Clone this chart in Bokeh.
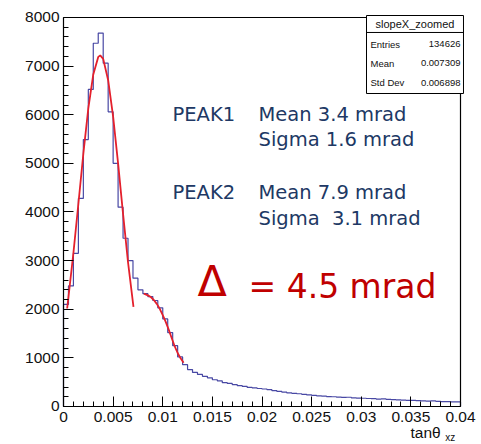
import numpy as np
from bokeh.plotting import figure
from bokeh.models import Range1d, FixedTicker, Label
from bokeh.embed import file_html
from bokeh.resources import INLINE

# ---------------- data ----------------
bin_width = 0.0005
hist_counts = [2100, 2480, 3150, 4280, 5490, 6520, 7470, 7680, 7060, 6060,
               5000, 4100, 3460, 3000, 2640, 2400, 2320, 2260, 2180, 2030,
               1800, 1520, 1250, 1020, 860, 760, 700, 660, 620, 590,
               550, 525, 490, 475, 450, 430, 415, 395, 385, 370,
               360, 345, 325, 310, 295, 280, 270, 262, 250, 238,
               228, 220, 212, 205, 200, 192, 186, 190, 178, 172,
               170, 165, 160, 152, 156, 146, 140, 137, 132, 126,
               125, 120, 116, 112, 116, 106, 102, 100, 96, 95]

fit1_x = [0.00037, 0.001, 0.0015, 0.002, 0.0025, 0.003, 0.0035, 0.0037,
          0.004, 0.0045, 0.005, 0.0055, 0.006, 0.0065, 0.00705]
fit1_y = [2015, 3160, 4170, 5200, 6130, 6830, 7190, 7220,
          7150, 6710, 5960, 5000, 3960, 2970, 2050]

fit2_x = [0.0081, 0.0085, 0.0088, 0.0091, 0.0094, 0.0097, 0.0100, 0.0103,
          0.0106, 0.0109, 0.0112, 0.0115, 0.0118, 0.0121]
fit2_y = [2320, 2285, 2250, 2190, 2110, 2010, 1880, 1740,
          1580, 1410, 1240, 1100, 990, 900]

x_ticks = [0, 0.005, 0.01, 0.015, 0.02, 0.025, 0.03, 0.035, 0.04]
x_tick_labels = ["0", "0.005", "0.01", "0.015", "0.02", "0.025", "0.03", "0.035", "0.04"]
y_ticks = [0, 1000, 2000, 3000, 4000, 5000, 6000, 7000, 8000]
y_tick_labels = ["0", "1000", "2000", "3000", "4000", "5000", "6000", "7000", "8000"]

stats_title = "slopeX_zoomed"
stats_names = ["Entries", "Mean", "Std Dev"]
stats_values = ["134626", "0.007309", "0.006898"]

peak_names = ["PEAK1", "PEAK2"]
peak_means = ["Mean 3.4 mrad", "Mean 7.9 mrad"]
peak_sigmas = ["Sigma 1.6 mrad", "Sigma\u00a0 3.1 mrad"]

# ---------------- figure ----------------
XMAX, YMAX = 0.04, 8000
p = figure(width=481, height=444, output_backend="svg", toolbar_location=None,
           x_range=Range1d(-0.006348, 0.042116), y_range=Range1d(-781.5, 8349.6),
           min_border=0, min_border_left=0, min_border_right=0,
           min_border_top=0, min_border_bottom=0)
p.outline_line_color = None
p.grid.grid_line_color = None
p.background_fill_color = "white"
p.border_fill_color = "white"

# histogram outline
counts = np.array(hist_counts, dtype=float)
edges = np.arange(len(counts) + 1) * bin_width
hx = np.repeat(edges, 2)[1:-1]
hy = np.repeat(counts, 2)
hx = np.concatenate([[edges[0]], hx, [edges[-1]]])
hy = np.concatenate([[0], hy, [0]])
p.line(hx, hy, line_color="#4848a4", line_width=1.2)

# fits
p.line(fit1_x, fit1_y, line_color="#e4202c", line_width=1.8)
p.line(fit2_x, fit2_y, line_color="#e4202c", line_width=1.8)

# frame top / right
p.segment(x0=[0, XMAX], y0=[YMAX, 0], x1=[XMAX, XMAX], y1=[YMAX, YMAX],
          line_color="black", line_width=1.2)

# axes (drawn at the data origin)
xa = p.xaxis[0]
xa.fixed_location = 0
xa.bounds = (0, XMAX)
xa.ticker = FixedTicker(ticks=x_ticks,
                        minor_ticks=[i * 0.001 for i in range(41)])
xa.major_label_overrides = dict(zip(x_ticks, x_tick_labels))
ya = p.yaxis[0]
ya.fixed_location = 0
ya.bounds = (0, YMAX)
ya.ticker = FixedTicker(ticks=y_ticks,
                        minor_ticks=[i * 200 for i in range(41)])
ya.major_label_overrides = dict(zip(y_ticks, y_tick_labels))
for ax in (xa, ya):
    ax.major_tick_in = 10
    ax.major_tick_out = 0
    ax.minor_tick_in = 5
    ax.minor_tick_out = 0
    ax.axis_line_color = "black"
    ax.axis_line_width = 1.2
    ax.major_tick_line_color = "black"
    ax.minor_tick_line_color = "black"
    ax.major_label_text_font = "Liberation Sans"
    ax.major_label_text_font_size = "15.5px"
    ax.major_label_text_color = "#111111"
xa.major_label_standoff = 6
ya.major_label_standoff = 4

# axis title
p.add_layout(Label(x=0.03496, y=-700, text="tanθ", text_font="Liberation Sans",
                   text_font_size="15.5px", text_color="#111111"))
p.add_layout(Label(x=0.03846, y=-760, text="xz", text_font="Liberation Sans",
                   text_font_size="10px", text_color="#111111"))

# stats box
bx0, bx1 = 0.030529, 0.040302
p.quad(left=[bx0], right=[bx1], top=[8041], bottom=[6437],
       fill_color="white", line_color="black", line_width=1)
p.segment(x0=[bx0], x1=[bx1], y0=[7692], y1=[7692],
          line_color="black", line_width=1)
p.add_layout(Label(x=0.035416, y=7870, text=stats_title, text_align="center",
                   text_baseline="middle", text_font="Liberation Sans",
                   text_font_size="11px", text_color="#111111"))
for i, (nm, vl) in enumerate(zip(stats_names, stats_values)):
    yy = 7445 - i * 391
    p.add_layout(Label(x=0.030932, y=yy, text=nm, text_baseline="middle",
                       text_font="Liberation Sans", text_font_size="9.5px",
                       text_color="#111111"))
    p.add_layout(Label(x=0.040, y=yy, text=vl, text_align="right",
                       text_baseline="middle", text_font="Liberation Sans",
                       text_font_size="9.5px", text_color="#111111"))

# peak annotations
navy = "#203864"
peak_y = [6005, 4401]
sig_y = [5491, 3866]
for nm, mn, sg, py, sy in zip(peak_names, peak_means, peak_sigmas, peak_y, sig_y):
    p.add_layout(Label(x=0.01098, y=py, text=nm, text_baseline="middle",
                       text_font="DejaVu Sans", text_font_size="19.5px",
                       text_color=navy))
    p.add_layout(Label(x=0.019647, y=py, text=mn, text_baseline="middle",
                       text_font="DejaVu Sans", text_font_size="19.5px",
                       text_color=navy))
    p.add_layout(Label(x=0.019647, y=sy, text=sg, text_baseline="middle",
                       text_font="DejaVu Sans", text_font_size="19.5px",
                       text_color=navy))

# delta annotation
p.add_layout(Label(x=0.0135, y=2077, text="Δ", text_font="DejaVu Sans",
                   text_font_size="43px", text_color="#c00000"))
p.add_layout(Label(x=0.01864, y=2077, text="= 4.5 mrad", text_font="DejaVu Sans",
                   text_font_size="33px", text_color="#c00000"))

open("out.html", "w").write(file_html(p, INLINE))
